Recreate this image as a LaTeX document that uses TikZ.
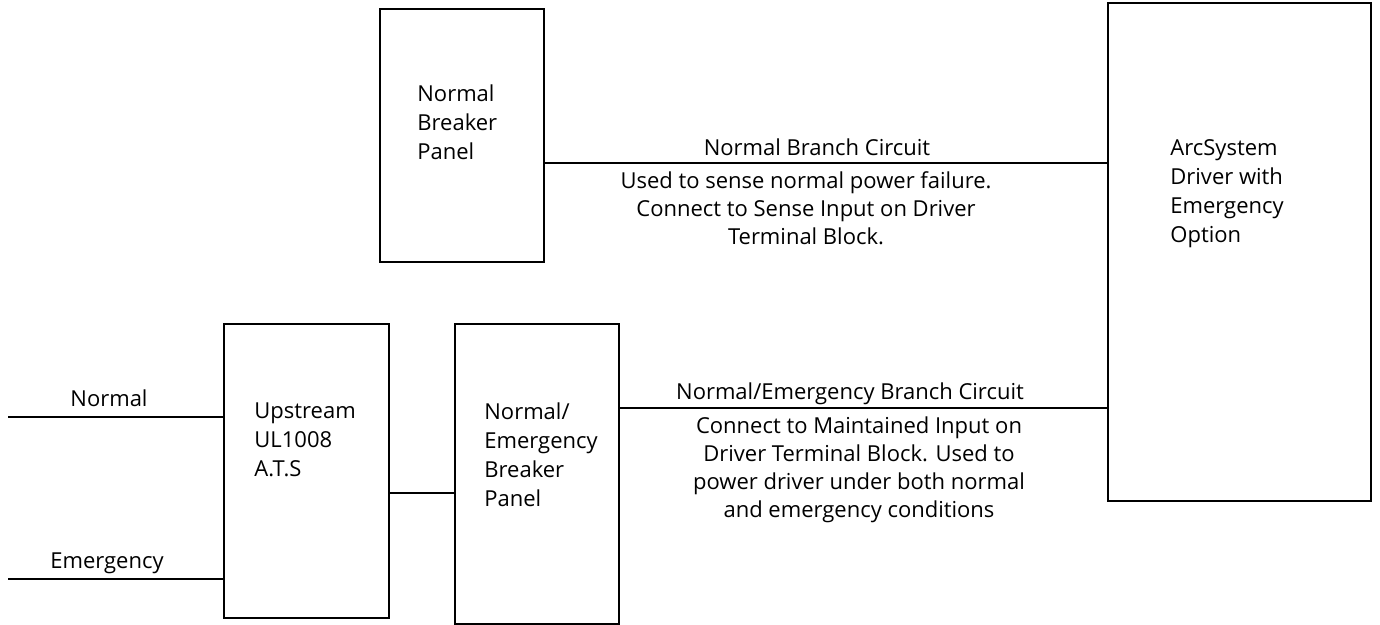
\documentclass[tikz,border=0pt]{standalone}
\usepackage{fontspec}
\setmainfont{Open Sans}
\begin{document}
\begin{tikzpicture}[
        x=0.5pt,y=-0.5pt,
        wire/.style={line width=1pt},
        panel/.style 2 args={draw,line width=1pt,anchor=north west,inner sep=0pt,
                             minimum width=#1,minimum height=#2},
        lbl/.style={inner sep=0pt,font=\fontsize{11}{14}\selectfont},
        paneltext/.style={inner sep=0pt,font=\fontsize{11}{14.5}\selectfont,align=left,anchor=north west},
        notetext/.style={lbl,align=center,anchor=north},
      ]
      \useasboundingbox (0,0) rectangle (1380,625);
      % Panels
      \node[panel={82pt}{126.5pt}] (nbp) at (379,8) {};
      \node[panel={131.5pt}{249pt}] (drv) at (1107,2) {};
      \node[panel={82.5pt}{147pt}] (ats) at (223,323) {};
      \node[panel={82pt}{150pt}] (nebp) at (454,323) {};
      \node[paneltext] (nbptext) at (417,84) {Normal\\Breaker\\Panel};
      \node[paneltext] (drvtext) at (1170,139) {ArcSystem\\Driver with\\Emergency\\Option};
      \node[paneltext] (atstext) at (254,402) {Upstream\\UL1008\\A.T.S};
      \node[paneltext] (nebptext) at (484,402) {Normal/\\Emergency\\Breaker\\Panel};
      % Feeds into the A.T.S
      \coordinate (nin) at (8,417);
      \coordinate (ein) at (8,579);
      \draw[wire] (nin) -- (nin -| ats.west);
      \draw[wire] (ein) -- (ein -| ats.west);
      \node[lbl,anchor=base] (ninlbl) at (109,407) {Normal};
      \node[lbl,anchor=base] (einlbl) at (107,568) {Emergency};
      % Branch circuits
      \coordinate (atsout) at (0,493);
      \coordinate (nbc) at (0,163);
      \coordinate (nebc) at (0,408);
      \draw[wire] (ats.east |- atsout) -- (nebp.west |- atsout);
      \draw[wire] (nbp.east |- nbc) -- (drv.west |- nbc);
      \draw[wire] (nebp.east |- nebc) -- (drv.west |- nebc);
      \node[lbl,anchor=base] (nbclbl) at (817,156) {Normal Branch Circuit};
      \node[notetext] (nbcnote) at (806,171) {Used to sense normal power failure.\\Connect to Sense Input on Driver\\Terminal Block.};
      \node[lbl,anchor=base] (nebclbl) at (850,400) {Normal/Emergency Branch Circuit};
      \node[notetext] (nebcnote) at (859,416) {Connect to Maintained Input on\\Driver Terminal Block. Used to\\power driver under both normal\\and emergency conditions};
    \end{tikzpicture}
\end{document}
